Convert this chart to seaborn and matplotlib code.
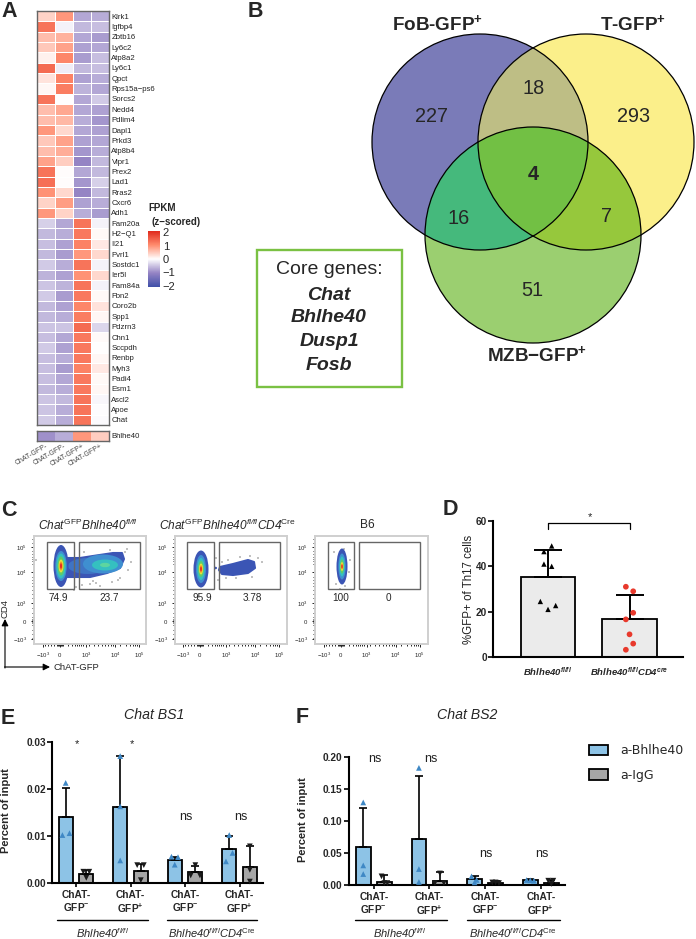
import numpy as np
import pandas as pd
import seaborn as sns
import matplotlib.pyplot as plt
from matplotlib.colors import LinearSegmentedColormap
from matplotlib.patches import Circle, Ellipse, Patch, Polygon, Rectangle

# --- panel A
genes = ['Klrk1', 'Igfbp4', 'Zbtb16', 'Ly6c2', 'Atp8a2', 'Ly6c1', 'Qpct', 'Rps15a\u2212ps6', 'Sorcs2', 'Nedd4',
         'Pdlim4', 'Dapl1', 'Prkd3', 'Atp8b4', 'Vipr1', 'Prex2', 'Lad1', 'Rras2', 'Cxcr6', 'Adh1',
         'Fam20a', 'H2\u2212Q1', 'Il21', 'Pvrl1', 'Sostdc1', 'Ier5l', 'Fam84a', 'Fbn2', 'Coro2b', 'Spp1',
         'Pdzrn3', 'Chn1', 'Sccpdh', 'Renbp', 'Myh3', 'Padi4', 'Esm1', 'Ascl2', 'Apoe', 'Chat']
sample_labels = ['ChAT-GFP-', 'ChAT-GFP-', 'ChAT-GFP+', 'ChAT-GFP+']
neg_1 = [.4, 1.3, .6, .5, .12, 1.4, .25, .08, 1.3, .6, .6, .95, .5, .6, .85, 1.3, 1.35, 1.0, .4, .95,
         -.4, -.6, -.55, -.6, -.45, -.65, -.5, -.45, -.6, -.6, -.5, -.55, -.45, -.55, -.55, -.55, -.6, -.5, -.5, -.45]
neg_2 = [.95, -.1, .7, .85, 1.1, -.15, 1.15, 1.2, 0, .8, .65, .35, .85, .75, .45, .03, .03, .35, .9, .4,
         -.75, -.7, -.8, -.85, -.7, -.8, -.65, -.85, -.8, -.7, -.5, -.75, -.8, -.7, -.85, -.75, -.7, -.6, -.7, -.7]
pos_1 = [-.75, -.6, -.75, -.8, -.85, -.6, -.8, -.65, -.75, -.75, -.7, -.75, -.8, -.9, -1.05, -.75, -.9, -1.05, -.8, -.7,
         1.3, 1.25, 1.15, .95, 1.3, 1.0, 1.3, 1.25, 1.1, 1.2, 1.4, 1.25, 1.25, 1.25, 1.15, 1.25, 1.25, 1.3, 1.3, 1.3]
pos_2 = [-.7, -.55, -.85, -.75, -.55, -.55, -.7, -.75, -.45, -.8, -.9, -.8, -.75, -.7, -.6, -.6, -.4, -.6, -.7, -.85,
         -.1, .05, .2, .35, -.1, .35, -.1, .05, .25, .08, -.35, .04, 0, .07, .2, .05, .07, -.08, -.03, -.04]
bhlhe40_row = [-.95, -.7, .95, .45]

# --- panel B
venn_names = ['FoB', 'T', 'MZB']
venn_counts = ['227', '293', '51', '18', '16', '7', '4']
core_genes = ['Chat', 'Bhlhe40', 'Dusp1', 'Fosb']

# --- panel C
gate_left_pct = ['74.9', '95.9', '100']
gate_right_pct = ['23.7', '3.78', '0']

# --- panel D
d_groups = ['fl', 'cre']
d_means = [35.2, 16.8]
d_upper = [47, 27.5]
d_fl_points = [49, 46.5, 41, 40, 24.5, 21, 22.7]
d_cre_points = [31, 29, 19.5, 16.6, 10, 5.9, 3.2]

# --- panels E, F
ab_names = ['a-Bhlhe40', 'a-IgG']
bar_keys = ['fl_neg', 'fl_pos', 'cre_neg', 'cre_pos']
bar_labels = ['ChAT-\nGFP$^{\\mathbf{-}}$', 'ChAT-\nGFP$^{\\mathbf{+}}$',
              'ChAT-\nGFP$^{\\mathbf{-}}$', 'ChAT-\nGFP$^{\\mathbf{+}}$']
e_bhlhe40 = [.0141, .0161, .0050, .0072]
e_igg = [.0019, .0026, .0023, .0034]
e_bhlhe40_top = [.0203, .0270, .0056, .0100]
e_igg_top = [.0028, .0041, .0037, .0078]
e_bhlhe40_pts = [[.0213, .0102, .0106], [.0270, .0163, .0048], [.0056, .0055, .0039], [.0102, .0064, .0046]]
e_igg_pts = [[.0024, .0024, .0011], [.0038, .0038, .0006], [.0038, .0016, .0016], [.0078, .0028, .0003]]
e_sig = ['*', '*', 'ns', 'ns']

f_bhlhe40 = [.0596, .0725, .0098, .0083]
f_igg = [.0052, .0067, .0026, .0036]
f_bhlhe40_top = [.121, .170, .0145, .0093]
f_igg_top = [.015, .0197, .0057, .0083]
f_bhlhe40_pts = [[.129, .0306, .0171], [.183, .0249, .0047], [.0135, .0080, .0041], [.0078, .0073, .0067]]
f_igg_pts = [[.0135, .003, .003], [.018, .003, .003], [.004, .004, .003], [.0067, .0067, .0015]]
f_sig = ['ns', 'ns', 'ns', 'ns']

sns.set_style('white')
plt.rcParams['font.family'] = ['Liberation Sans', 'DejaVu Sans']
plt.rcParams['mathtext.fontset'] = 'custom'
# digits inside \mathit fall back to rm, so rm is italic here and sf is the upright face
plt.rcParams['mathtext.rm'] = 'Liberation Sans:italic'
plt.rcParams['mathtext.it'] = 'Liberation Sans:italic'
plt.rcParams['mathtext.sf'] = 'Liberation Sans'
plt.rcParams['mathtext.bf'] = 'Liberation Sans:bold'
plt.rcParams['mathtext.bfit'] = 'Liberation Sans:italic:bold'
plt.rcParams['mathtext.default'] = 'sf'

W, H = 696, 939
fig = plt.figure(figsize=(W / 100, H / 100), dpi=100)


def px_axes(left, top, right, bottom):
    return fig.add_axes([left / W, 1 - bottom / H, (right - left) / W, (bottom - top) / H])


canvas = fig.add_axes([0, 0, 1, 1], zorder=10)
canvas.set_xlim(0, W)
canvas.set_ylim(H, 0)
canvas.axis('off')

for letter, x, y in [('A', 1, 17), ('B', 248, 17), ('C', 1, 516), ('D', 443, 515), ('E', 1, 724), ('F', 296, 723)]:
    canvas.text(x, y, letter, fontsize=15.5, fontweight='bold', va='baseline', ha='left')

# ------------ A: heatmap
heat_cmap = LinearSegmentedColormap.from_list('heat', ['#3F4FA8', '#9584C4', '#FFFFFF', '#FF8C6E', '#E02A1C'])
heat_df = pd.DataFrame({'n1': neg_1, 'n2': neg_2, 'p1': pos_1, 'p2': pos_2}, index=genes)

ax = px_axes(36.7, 11, 108.7, 425)
cax = px_axes(148, 231, 160, 287)
sns.heatmap(heat_df, ax=ax, cmap=heat_cmap, vmin=-2.1, vmax=2.1, linewidths=0.6, linecolor='white',
            xticklabels=False, yticklabels=True, cbar_ax=cax, cbar_kws={'ticks': [-2, -1, 0, 1, 2]})
ax.yaxis.tick_right()
ax.tick_params(axis='y', length=0, labelsize=5.6, labelrotation=0, pad=2, labelcolor='#222222')
for s in ax.spines.values():
    s.set_visible(True)
    s.set_color('#666666')
    s.set_linewidth(1)
ax.collections[0].colorbar.outline.set_visible(False)
cax.tick_params(axis='y', direction='in', length=3, width=0.7, color='white', labelsize=8, pad=2, right=True, left=True)
cax.set_yticklabels(['\u22122', '\u22121', '0', '1', '2'])
canvas.text(148, 208, 'FPKM', fontsize=7, fontweight='bold', va='center')
canvas.text(151, 222, '(z\u2212scored)', fontsize=7, fontweight='bold', va='center')

ax = px_axes(36.7, 431, 108.7, 441)
sns.heatmap(np.array([bhlhe40_row]), ax=ax, cmap=heat_cmap, vmin=-2.1, vmax=2.1, linewidths=0, cbar=False,
            xticklabels=sample_labels, yticklabels=['Bhlhe40'])
ax.yaxis.tick_right()
ax.tick_params(axis='y', length=0, labelsize=5.6, labelrotation=0, pad=2, labelcolor='#222222')
ax.tick_params(axis='x', length=0, pad=1)
ax.set_xticklabels(sample_labels, rotation=30, ha='right', rotation_mode='anchor', fontsize=5, color='#444444')
for s in ax.spines.values():
    s.set_visible(True)
    s.set_color('#666666')
    s.set_linewidth(1)

# ------------ B: venn
venn_x = [480, 586, 533]
venn_y = [142, 142, 235]
venn_r = 108
venn_base = ['#7A7BB8', '#FBEF8A', '#9BCF70']
pair_colors = {(0, 1): '#BEBE85', (0, 2): '#45B97C', (1, 2): '#96C83C'}
triple_color = '#72C044'


def lens(i, j):
    # outline of the overlap of two circles, taken from points on both rims
    ang = np.radians(np.arange(0, 360, 1))
    pts = []
    for a, b in [(i, j), (j, i)]:
        px = venn_x[a] + venn_r * np.cos(ang)
        py = venn_y[a] + venn_r * np.sin(ang)
        keep = np.hypot(px - venn_x[b], py - venn_y[b]) <= venn_r
        pts.append(np.column_stack([px[keep], py[keep]]))
    pts = np.vstack(pts)
    c = pts.mean(axis=0)
    return pts[np.argsort(np.arctan2(pts[:, 1] - c[1], pts[:, 0] - c[0]))]


for i in range(3):
    canvas.add_patch(Circle((venn_x[i], venn_y[i]), venn_r, fc=venn_base[i], ec='none'))
for (i, j), col in pair_colors.items():
    canvas.add_patch(Polygon(lens(i, j), fc=col, ec='none'))
lens_patch = Polygon(lens(0, 1), transform=canvas.transData)
tri = Circle((venn_x[2], venn_y[2]), venn_r, fc=triple_color, ec='none')
canvas.add_patch(tri)
tri.set_clip_path(lens_patch)
for i in range(3):
    canvas.add_patch(Circle((venn_x[i], venn_y[i]), venn_r, fc='none', ec='black', lw=0.9))

count_x = [431, 634, 532.5, 533.5, 459, 607, 533]
count_y = [116, 116, 291, 88, 218, 217, 175]
for t, x, y in zip(venn_counts, count_x, count_y):
    canvas.text(x, y, t, fontsize=14.3, ha='center', va='center', fontweight='bold' if t == '4' else 'normal')
canvas.text(438, 24, 'FoB-GFP$^{\\mathbf{+}}$', fontsize=13.6, fontweight='bold', ha='center', va='center')
canvas.text(633, 24, 'T-GFP$^{\\mathbf{+}}$', fontsize=13.6, fontweight='bold', ha='center', va='center')
canvas.text(537, 355, 'MZB\u2212GFP$^{\\mathbf{+}}$', fontsize=13.6, fontweight='bold', ha='center', va='center')

canvas.add_patch(Rectangle((257, 249.5), 145, 137.5, fc='white', ec='#7AC143', lw=1.7))
canvas.text(329, 269, 'Core genes:', fontsize=14, ha='center', va='center')
for g, y in zip(core_genes, [295, 318, 341, 366]):
    canvas.text(329, y, g, fontsize=14, fontstyle='italic', fontweight='bold', ha='center', va='center')

# ------------ C: flow plots
flow_frames = [(34, 146), (175, 287), (315, 428)]
flow_shift = [0, 140, 280.7]
flow_titles = ['$\\mathit{Chat}^{GFP}\\mathit{Bhlhe40}^{\\mathit{fl/fl}}$',
               '$\\mathit{Chat}^{GFP}\\mathit{Bhlhe40}^{\\mathit{fl/fl}}\\mathit{CD4}^{Cre}$',
               'B6']
title_x = [88, 228, 367]
gate_l = [(47, 74), (187, 214), (328, 354)]
gate_r = [(79, 140), (219, 280), (359, 420)]
pct_x = [(58, 109), (202, 252), (341, 388)]

blue, mid, cyan, green, yellow, orange, red = ['#3B55B5', '#3F8FD0', '#35C0C0', '#5FCB6A', '#E8E23A', '#F59A23', '#E52A25']
flow_levels = [blue, mid, cyan, green, yellow, orange, red]
# per panel: centre x, centre y, then x and y radius for each density level
flow_cores = [
    (61, 566, [7.5, 5.7, 4.6, 3.4, 2.4, 1.7, 1.0], [21, 15, 12.5, 9.5, 6.5, 4.5, 2.8]),
    (201, 569, [7.5, 5, 3.7, 2.8, 2.0, 1.4, 0.9], [18.5, 14, 11, 8, 5.5, 3.8, 2.3]),
    (342, 566.5, [5.5, 3.7, 2.7, 2.0, 1.4, 1.0, 0.7], [18, 13, 10, 7, 4.5, 3, 2]),
]
tail_1_x = [66, 80, 93, 113, 122, 124, 120, 107, 90, 77, 66]
tail_1_y = [558, 558, 556, 553, 553, 559, 568, 573, 577, 577, 577]
tail_2_x = [220, 233, 248, 254, 255, 248, 233, 222, 219]
tail_2_y = [567, 564, 560, 562, 568, 573, 575, 574, 570]
tail_1_cores = [(88, 566, 20, 8, '#3F74C4'), (103, 564, 20, 9.5, mid), (105, 565, 13, 5.5, cyan), (105, 565, 5, 2.2, '#5CD6A0')]
speck_x = [[36, 76, 82, 90, 96, 100, 112, 120, 128, 131, 125, 84, 74, 93, 118, 110, 127],
           [216, 222, 228, 240, 250, 258, 262, 252, 236, 226, 218],
           [334, 336, 344, 350, 349, 345, 340]]
speck_y = [[560, 587, 585, 584, 583, 586, 582, 578, 570, 562, 552, 552, 590, 581, 580, 550, 549],
           [558, 562, 560, 557, 556, 558, 562, 577, 578, 578, 580],
           [552, 584, 549, 560, 572, 586, 589]]

tick_major = [43, 60, 86, 115, 139]
tick_minor = [-15, -12, -9, -6, -3, -2, -1, 0, 1, 2, 3, 8, 12, 15, 17, 19, 21, 23, 29, 34, 38, 42, 45, 48, 51, 53, 55,
              60, 66, 70, 73, 75, 77, 79]
tick_text = ['$-10^{3}$', '$0$', '$10^{3}$', '$10^{4}$', '$10^{5}$']
ytick_major = [547, 572, 603, 621, 639]
ytick_minor = [539, 543, 551, 554, 557, 559, 561, 564, 577, 580, 583, 586, 590, 594, 598, 608, 613, 617, 619, 620, 621,
               622, 623, 625, 630, 634, 638]

for k, (x0, x1) in enumerate(flow_frames):
    ax = px_axes(x0, 536, x1, 644)
    ax.set_xlim(x0, x1)
    ax.set_ylim(644, 536)
    for s in ax.spines.values():
        s.set_color('#CFCFCF')
        s.set_linewidth(1.4)
    ax.set_xticks([t + flow_shift[k] for t in tick_major])
    ax.set_xticklabels(tick_text, fontsize=4.3)
    ax.set_xticks([60 + t + flow_shift[k] for t in tick_minor], minor=True)
    ax.set_yticks(ytick_major)
    ax.set_yticklabels(['$10^{5}$', '$10^{4}$', '$10^{3}$', '$0$', '$-10^{3}$'], fontsize=4.3)
    ax.set_yticks(ytick_minor, minor=True)
    ax.tick_params(which='major', length=2, width=0.6, color='black', pad=3, bottom=True, left=True)
    ax.tick_params(which='minor', length=1.2, width=0.6, color='black', bottom=True, left=True)

    sns.scatterplot(x=speck_x[k], y=speck_y[k], s=1.2, color='#777777', edgecolor='none', ax=ax, legend=False)
    if k == 0:
        ax.fill(tail_1_x, tail_1_y, fc=blue, ec=blue, lw=1.5, joinstyle='round')
        for cx, cy, rx, ry, col in tail_1_cores:
            ax.add_patch(Ellipse((cx, cy), 2 * rx, 2 * ry, fc=col, ec='none'))
    if k == 1:
        ax.fill(tail_2_x, tail_2_y, fc=blue, ec=blue, lw=1.5, joinstyle='round')
        ax.add_patch(Ellipse((215.5, 568), 3, 2.5, fc=blue, ec='none'))
    cx, cy, rxs, rys = flow_cores[k]
    for rx, ry, col in zip(rxs, rys, flow_levels):
        ax.add_patch(Ellipse((cx, cy), 2 * rx, 2 * ry, fc=col, ec='none'))

    for (g0, g1), tx in zip([gate_l[k], gate_r[k]], [gate_left_pct[k], gate_right_pct[k]]):
        ax.add_patch(Rectangle((g0, 542), g1 - g0, 47, fc='none', ec='#666666', lw=1))
    ax.text(pct_x[k][0], 598, gate_left_pct[k], fontsize=7.2, ha='center', va='center')
    ax.text(pct_x[k][1], 598, gate_right_pct[k], fontsize=7.2, ha='center', va='center')
    canvas.text(title_x[k], 525, flow_titles[k], fontsize=8.6, ha='center', va='center')

canvas.annotate('', xy=(5, 619), xytext=(5, 668), arrowprops=dict(arrowstyle='-|>', color='black', lw=0.8, shrinkA=0, shrinkB=0))
canvas.annotate('', xy=(50, 667), xytext=(4.5, 667), arrowprops=dict(arrowstyle='-|>', color='black', lw=0.8, shrinkA=0, shrinkB=0))
canvas.text(5, 608, 'CD4', fontsize=6.8, rotation=90, ha='center', va='center')
canvas.text(54, 667, 'ChAT-GFP', fontsize=6.8, ha='left', va='center')

# ------------ D: bars
ax = px_axes(493, 521, 683, 657)
sns.barplot(x=d_groups, y=d_means, color='#EBEBEB', saturation=1, width=0.667, edgecolor='black', linewidth=1.3, ax=ax)
ax.set_xlim(-0.675, 1.656)
ax.set_ylim(0, 60)
ax.errorbar([0, 1], d_means, yerr=[[0, 0], np.subtract(d_upper, d_means)], fmt='none', ecolor='black',
            capsize=10, elinewidth=1.4, capthick=1.4)
fl_dx = [.045, -.05, -.05, .045, -.094, 0, .094]
cre_dx = [-.045, .045, .045, -.045, 0, .045, -.045]
sns.scatterplot(x=np.add(0, fl_dx), y=d_fl_points, marker='^', s=15, color='black', edgecolor='none', ax=ax, zorder=5,
                legend=False, clip_on=False)
sns.scatterplot(x=np.add(1, cre_dx), y=d_cre_points, marker='o', s=17, color='#E8392C', edgecolor='none', ax=ax, zorder=5,
                legend=False, clip_on=False)
sns.despine(ax=ax)
for s in ['left', 'bottom']:
    ax.spines[s].set_linewidth(1.5)
    ax.spines[s].set_color('black')
ax.set_yticks([0, 20, 40, 60])
ax.set_yticklabels(['0', '20', '40', '60'], fontsize=7.2, fontweight='bold')
ax.tick_params(axis='y', left=True, length=3.5, width=1.2, color='black', pad=1)
ax.tick_params(axis='x', bottom=False, pad=2.5)
ax.set_xticks([0, 1])
ax.set_xticklabels(['$\\mathbfit{Bhlhe40}^{\\mathbfit{fl/fl}}$', '$\\mathbfit{Bhlhe40}^{\\mathbfit{fl/fl}}\\mathbfit{CD4}^{\\mathbfit{cre}}$'],
                   fontsize=6.8)
ax.set_ylabel('%GFP+ of Th17 cells', fontsize=8.3, labelpad=0, color='#222222')
ax.plot([0.005, 0.005, 1.0, 1.0], [56.4, 59.3, 59.3, 56.4], color='black', lw=0.9, clip_on=False)
ax.text(0.51, 61.6, '*', fontsize=8, ha='center', va='center')


# ------------ E, F: grouped bars
def chip_panel(rect, xlim, ymax, yticks, a_vals, b_vals, a_top, b_top, a_pts, b_pts, a_dx, b_dx, sig, sig_y):
    ax = px_axes(*rect)
    df = pd.DataFrame({'group': bar_keys * 2,
                       'ab': [ab_names[0]] * 4 + [ab_names[1]] * 4,
                       'value': a_vals + b_vals})
    sns.barplot(data=df, x='group', y='value', hue='ab', palette=['#8DC3E6', '#A6A6A6'], saturation=1, width=0.756,
                gap=0.31, edgecolor='black', linewidth=1.3, legend=False, errorbar=None, ax=ax)
    ax.set_xlim(*xlim)
    ax.set_ylim(0, ymax)
    for cont, vals, top, pts, dx, mk, col in [(ax.containers[0], a_vals, a_top, a_pts, a_dx, '^', '#3F88C5'),
                                              (ax.containers[1], b_vals, b_top, b_pts, b_dx, 'v', '#1A1A1A')]:
        xs = [b.get_x() + b.get_width() / 2 for b in cont]
        ax.errorbar(xs, vals, yerr=[[0] * 4, np.subtract(top, vals)], fmt='none', ecolor='black', capsize=2.6,
                    elinewidth=1.2, capthick=1.2, zorder=4)
        for x, p, d in zip(xs, pts, dx):
            sns.scatterplot(x=np.add(x, d), y=p, marker=mk, s=17, color=col, edgecolor='none', ax=ax, zorder=5,
                            legend=False, clip_on=False)
    sns.despine(ax=ax)
    for s in ['left', 'bottom']:
        ax.spines[s].set_linewidth(1.5)
        ax.spines[s].set_color('black')
    ax.set_yticks(yticks)
    ax.set_yticklabels(['%.2f' % t for t in yticks], fontsize=7.3, fontweight='bold')
    ax.tick_params(axis='y', left=True, length=3.5, width=1.2, color='black', pad=1)
    ax.set_xticks(range(4))
    ax.set_xticklabels(bar_labels, fontsize=7.3, fontweight='bold', linespacing=1.15)
    ax.tick_params(axis='x', bottom=True, length=3, width=1.2, color='black', pad=2)
    ax.set_xlabel('')
    ax.set_ylabel('')
    for i, (t, y) in enumerate(zip(sig, sig_y)):
        ax.text(i + 0.02, y, t, fontsize=9 if t == 'ns' else 8, ha='center', va='center', clip_on=False, color='#222222')
    return ax


dx_e_up = [[0, -.06, .07], [0, 0, 0], [-.06, .06, 0], [0, .06, -.06]]
dx_e_dn = [[-.055, .055, 0], [-.067, .055, 0], [0, -.085, .085], [0, 0, 0]]
dx_f_up = [[0, 0, 0], [0, 0, 0], [-.055, .036, 0], [-.066, 0, .066]]
dx_f_dn = [[-.05, 0, .055], [0, -.09, .07], [-.06, 0, .06], [-.055, .036, 0]]

chip_panel((52, 742, 263, 883), (-0.44, 3.43), 0.03, [0, .01, .02, .03],
           e_bhlhe40, e_igg, e_bhlhe40_top, e_igg_top, e_bhlhe40_pts, e_igg_pts, dx_e_up, dx_e_dn,
           e_sig, [.0295, .0295, .0140, .0140])
chip_panel((349, 757, 565, 885), (-0.445, 3.435), 0.20, [0, .05, .10, .15, .20],
           f_bhlhe40, f_igg, f_bhlhe40_top, f_igg_top, f_bhlhe40_pts, f_igg_pts, dx_f_up, dx_f_dn,
           f_sig, [.197, .197, .049, .049])

canvas.text(6, 811, 'Percent of input', fontsize=8, fontweight='bold', rotation=90, ha='center', va='center')
canvas.text(303, 820, 'Percent of input', fontsize=8, fontweight='bold', rotation=90, ha='center', va='center')
canvas.text(154, 715, 'Chat BS1', fontsize=10.2, fontstyle='italic', ha='center', va='center')
canvas.text(467, 715, 'Chat BS2', fontsize=10.2, fontstyle='italic', ha='center', va='center')

for x0, x1, lab_x, lab in [(57, 148, 103, '$\\mathit{Bhlhe40}^{\\mathit{fl/fl}}$'),
                           (167, 257, 212, '$\\mathit{Bhlhe40}^{\\mathit{fl/fl}}\\mathit{CD4}^{Cre}$'),
                           (355, 447, 400, '$\\mathit{Bhlhe40}^{\\mathit{fl/fl}}$'),
                           (467, 560, 513, '$\\mathit{Bhlhe40}^{\\mathit{fl/fl}}\\mathit{CD4}^{Cre}$')]:
    canvas.plot([x0, x1], [920, 920], color='black', lw=1)
    canvas.text(lab_x, 933, lab, fontsize=8, ha='center', va='center')

handles = [Patch(fc='#8DC3E6', ec='black', lw=1.3, label=ab_names[0]),
           Patch(fc='#A6A6A6', ec='black', lw=1.3, label=ab_names[1])]
fig.legend(handles=handles, loc='upper left', bbox_to_anchor=(589 / W, 1 - 744 / H), frameon=False,
           borderpad=0, borderaxespad=0, handlelength=1.5, handleheight=0.9, handletextpad=1.0, labelspacing=0.95,
           prop={'family': 'DejaVu Sans', 'size': 9})

fig.savefig('out.png', dpi=100)
